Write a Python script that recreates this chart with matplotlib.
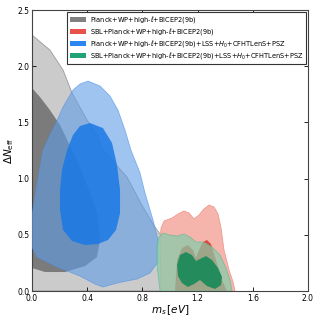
import numpy as np
import matplotlib
matplotlib.use("Agg")
import matplotlib.pyplot as plt
from matplotlib.patches import Patch

# contour outlines: (m_s [eV], Delta N_eff)
gray_outer_x = [0.0, 0.130, 0.225, 0.290, 0.399, 0.471, 0.514, 0.688, 0.804, 0.891, 0.949, 1.094, 1.268, 1.362, 1.406, 0.0]
gray_outer_y = [2.278, 2.144, 1.966, 1.762, 1.521, 1.388, 1.254, 1.014, 0.747, 0.569, 0.472, 0.294, 0.169, 0.080, 0.0, 0.0]
gray_inner_x = [0.0, 0.058, 0.130, 0.203, 0.326, 0.399, 0.471, 0.493, 0.471, 0.384, 0.239, 0.094, 0.0]
gray_inner_y = [1.806, 1.726, 1.610, 1.477, 1.165, 0.943, 0.703, 0.454, 0.302, 0.222, 0.169, 0.169, 0.205]

blue_outer_x = [0.406, 0.493, 0.565, 0.623, 0.674, 0.717, 0.783, 0.819, 0.877, 0.913, 0.913, 0.855, 0.761, 0.616,
                0.514, 0.457, 0.348, 0.181, 0.036, 0.0, 0.0, 0.029, 0.080, 0.130, 0.167, 0.225, 0.297, 0.348]
blue_outer_y = [1.868, 1.824, 1.735, 1.610, 1.432, 1.254, 1.050, 0.872, 0.632, 0.454, 0.258, 0.160, 0.107, 0.071,
                0.036, 0.062, 0.133, 0.214, 0.302, 0.391, 0.676, 0.899, 1.254, 1.388, 1.477, 1.637, 1.788, 1.842]
blue_inner_x = [0.420, 0.514, 0.580, 0.616, 0.638, 0.638, 0.609, 0.551, 0.478, 0.384, 0.290, 0.225, 0.203, 0.203, 0.217, 0.254, 0.297, 0.348]
blue_inner_y = [1.495, 1.450, 1.317, 1.121, 0.899, 0.694, 0.543, 0.454, 0.418, 0.409, 0.445, 0.543, 0.721, 0.899, 1.077, 1.254, 1.388, 1.468]

red_outer_x = [0.935, 0.928, 0.935, 0.957, 1.014, 1.058, 1.101, 1.138, 1.174, 1.210, 1.246, 1.283, 1.319, 1.348, 1.370, 1.391, 1.428, 1.457, 1.471]
red_outer_y = [0.0, 0.454, 0.560, 0.623, 0.649, 0.685, 0.712, 0.694, 0.641, 0.676, 0.730, 0.765, 0.747, 0.685, 0.560, 0.365, 0.187, 0.080, 0.0]
red_inner_x = [1.036, 1.051, 1.087, 1.130, 1.167, 1.188, 1.210, 1.239, 1.268, 1.297, 1.333, 1.377, 1.413]
red_inner_y = [0.0, 0.276, 0.383, 0.409, 0.365, 0.294, 0.365, 0.436, 0.454, 0.418, 0.276, 0.098, 0.0]

green_outer_x = [0.928, 0.906, 0.906, 0.920, 0.949, 1.0, 1.051, 1.101, 1.145, 1.188, 1.246, 1.304, 1.362, 1.406, 1.435, 1.449]
green_outer_y = [0.0, 0.231, 0.409, 0.480, 0.516, 0.498, 0.489, 0.507, 0.480, 0.436, 0.436, 0.391, 0.320, 0.205, 0.098, 0.0]
green_inner_x = [1.051, 1.072, 1.116, 1.159, 1.188, 1.217, 1.261, 1.304, 1.348, 1.377, 1.370, 1.326, 1.268, 1.217, 1.174, 1.130, 1.087, 1.058]
green_inner_y = [0.231, 0.320, 0.347, 0.320, 0.267, 0.285, 0.311, 0.276, 0.205, 0.125, 0.053, 0.018, 0.044, 0.098, 0.062, 0.036, 0.071, 0.133]

labels = [r"Planck+WP+high-$\ell$+BICEP2(9b)",
          r"SBL+Planck+WP+high-$\ell$+BICEP2(9b)",
          r"Planck+WP+high-$\ell$+BICEP2(9b)+LSS+$H_0$+CFHTLenS+PSZ",
          r"SBL+Planck+WP+high-$\ell$+BICEP2(9b)+LSS+$H_0$+CFHTLenS+PSZ"]
legend_colors = ["#808080", "#e8524a", "#2a86f0", "#20a376"]

fig = plt.figure(figsize=(3.2, 3.2), dpi=100)
ax = fig.add_axes([0.1, 0.0906, 0.8625, 0.878])

ax.fill(gray_outer_x, gray_outer_y, fc="#cbcbcb", ec="#9a9a9a", lw=0.6, zorder=1)
ax.fill(gray_inner_x, gray_inner_y, fc="#7b7b7b", ec="none", zorder=2)
ax.fill(blue_outer_x, blue_outer_y, fc="#619de6", alpha=0.6, ec="#4a90e8", lw=0.6, zorder=3)
ax.fill(blue_inner_x, blue_inner_y, fc="#1a78e6", alpha=0.85, ec="none", zorder=4)
ax.fill(red_outer_x, red_outer_y, fc="#f5b5ad", ec="#ee9a90", lw=0.6, zorder=5)
ax.fill(red_inner_x, red_inner_y, fc="#e0483c", ec="none", zorder=6)
ax.fill(green_outer_x, green_outer_y, fc="#83cdab", alpha=0.7, ec="#5fb88e", lw=0.6, zorder=7)
ax.fill(green_inner_x, green_inner_y, fc="#1e8a5a", alpha=0.95, ec="none", zorder=8)

ax.set_xlim(0, 2.0)
ax.set_ylim(0, 2.5)
ax.set_xticks(np.arange(0, 2.01, 0.4))
ax.set_yticks(np.arange(0, 2.51, 0.5))
ax.xaxis.set_major_formatter(plt.FormatStrFormatter("%.1f"))
ax.yaxis.set_major_formatter(plt.FormatStrFormatter("%.1f"))
ax.tick_params(direction="in", top=True, right=True, labelsize=5.5, length=3, width=0.6, pad=2)
for s in ax.spines.values():
    s.set_linewidth(0.8)
    s.set_color("#444444")

ax.set_xlabel(r"$m_s\,[eV]$", fontsize=7.5, labelpad=0)
ax.set_ylabel(r"$\Delta N_{\rm eff}$", fontsize=7.5, labelpad=1)

handles = [Patch(fc=c, ec="none") for c in legend_colors]
leg = ax.legend(handles, labels, loc="upper right", fontsize=4.8, fancybox=False,
                handlelength=2.4, handleheight=0.6, borderpad=0.35, labelspacing=0.15,
                handletextpad=0.6, borderaxespad=0.3, framealpha=1)
leg.get_frame().set_edgecolor("#333333")
leg.get_frame().set_linewidth(0.8)
leg.set_zorder(20)

fig.savefig("out.png", dpi=100)
